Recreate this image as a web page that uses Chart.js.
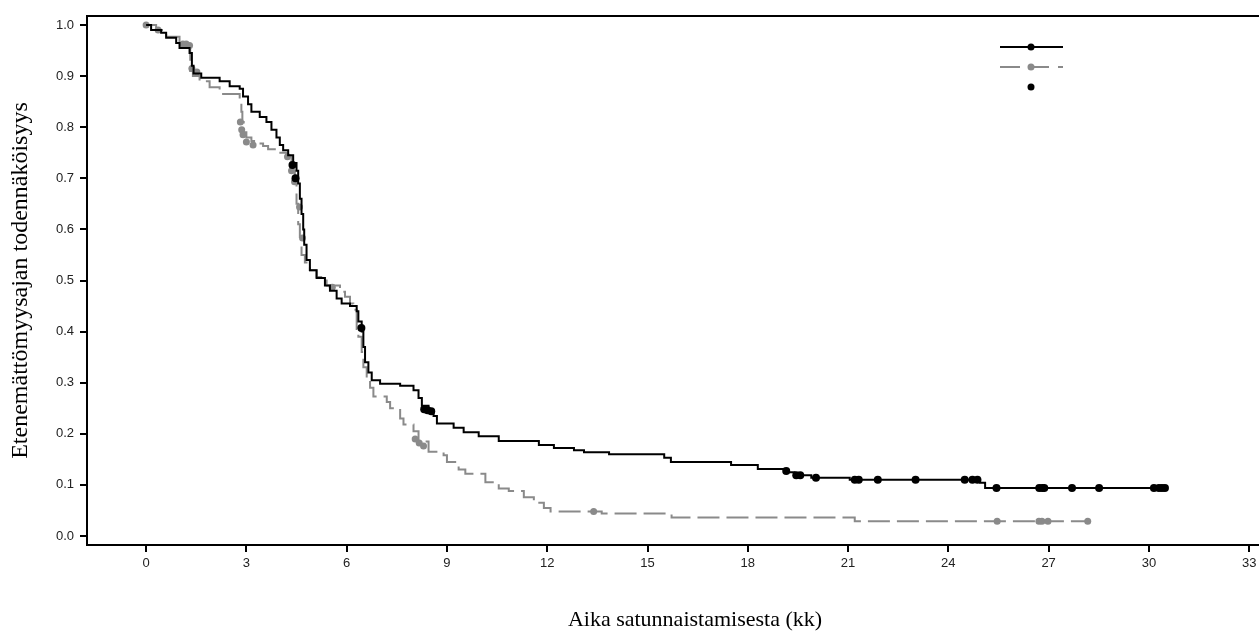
<!DOCTYPE html>
<html>
<head>
<meta charset="utf-8">
<script src="https://cdn.jsdelivr.net/npm/chart.js@4.4.1/dist/chart.umd.min.js"></script>
<style>
  html, body { margin: 0; padding: 0; background: #fff; overflow: hidden; }
  #wrap { width: 1307px; height: 633px; }
</style>
</head>
<body>
<div id="wrap"><canvas id="km"></canvas></div>
<script>
// --- Data ---
const xTicks = [0, 3, 6, 9, 12, 15, 18, 21, 24, 27, 30, 33];
const yTicks = [0, 0.1, 0.2, 0.3, 0.4, 0.5, 0.6, 0.7, 0.8, 0.9, 1.0];

// black arm: step times and survival after each step
const blackTime = [0, 0.15, 0.45, 0.6, 0.9, 1.0, 1.3, 1.37, 1.42, 1.65, 2.2, 2.5, 2.8, 2.9, 3.05, 3.15, 3.4, 3.6, 3.75, 3.9,
  4.0, 4.1, 4.25, 4.4, 4.5, 4.55, 4.6, 4.65, 4.7, 4.73, 4.8, 4.9, 5.1, 5.35, 5.5, 5.7, 5.85, 6.1, 6.3, 6.35,
  6.45, 6.5, 6.55, 6.65, 6.75, 7.0, 7.6, 8.0, 8.15, 8.25, 8.45, 8.6, 8.7, 9.2, 9.5, 9.95, 10.55, 11.75, 12.2, 12.8,
  13.1, 13.85, 15.5, 15.7, 17.5, 18.3, 19.1, 19.4, 19.9, 21.05, 24.95, 25.1, 30.5];
const blackSurv = [1.0, 0.99, 0.985, 0.975, 0.965, 0.955, 0.945, 0.92, 0.905, 0.897, 0.89, 0.88, 0.875, 0.86, 0.845, 0.83, 0.82, 0.81, 0.795, 0.78,
  0.765, 0.755, 0.745, 0.73, 0.715, 0.69, 0.66, 0.63, 0.6, 0.57, 0.54, 0.52, 0.505, 0.49, 0.48, 0.465, 0.455, 0.45, 0.44, 0.42,
  0.40, 0.37, 0.34, 0.32, 0.305, 0.298, 0.294, 0.285, 0.27, 0.255, 0.245, 0.235, 0.22, 0.212, 0.203, 0.195, 0.186, 0.178, 0.172, 0.168,
  0.164, 0.16, 0.153, 0.145, 0.139, 0.131, 0.125, 0.119, 0.114, 0.110, 0.104, 0.094, 0.094];

// gray arm
const grayTime = [0, 0.3, 0.6, 1.0, 1.25, 1.32, 1.4, 1.6, 1.9, 2.2, 2.8, 2.85, 2.88, 2.92, 3.0, 3.15, 3.3, 3.5, 3.65, 3.85,
  4.2, 4.35, 4.45, 4.5, 4.55, 4.6, 4.65, 4.75, 4.9, 5.1, 5.4, 5.8, 5.95, 6.1, 6.2, 6.3, 6.35, 6.45, 6.5, 6.6,
  6.7, 6.8, 7.2, 7.3, 7.6, 7.7, 8.0, 8.15, 8.45, 8.9, 9.0, 9.35, 9.55, 10.15, 10.55, 10.85, 11.3, 11.6, 11.9, 12.1,
  13.63, 15.72, 21.2, 28.18];
const graySurv = [1.0, 0.99, 0.977, 0.963, 0.958, 0.91, 0.9, 0.89, 0.878, 0.865, 0.856, 0.83, 0.81, 0.79, 0.78, 0.773, 0.768, 0.763, 0.757, 0.75,
  0.742, 0.715, 0.695, 0.65, 0.61, 0.585, 0.55, 0.535, 0.52, 0.507, 0.49, 0.478, 0.468, 0.455, 0.443, 0.405, 0.39, 0.36, 0.33, 0.31,
  0.29, 0.273, 0.262, 0.25, 0.23, 0.218, 0.205, 0.185, 0.165, 0.158, 0.145, 0.13, 0.122, 0.105, 0.093, 0.088, 0.076, 0.065, 0.055, 0.048,
  0.044, 0.036, 0.029, 0.029];

// censored observations
const blackCensT = [4.38, 4.47, 6.44, 8.32, 8.42, 8.53, 19.15, 19.45, 19.57, 20.04, 21.2, 21.32, 21.89, 23.02, 24.49, 24.72, 24.87,
  25.44, 26.72, 26.81, 26.87, 27.7, 28.51, 30.15, 30.3, 30.39, 30.48];
const blackCensS = [0.726, 0.70, 0.407, 0.248, 0.246, 0.244, 0.127, 0.119, 0.119, 0.114, 0.110, 0.110, 0.110, 0.110, 0.110, 0.110, 0.110,
  0.094, 0.094, 0.094, 0.094, 0.094, 0.094, 0.094, 0.094, 0.094, 0.094];
const grayCensT = [0, 0.36, 1.1, 1.2, 1.3, 1.37, 1.52, 2.82, 2.86, 2.9, 3.0, 3.2, 4.23, 4.35, 4.44, 4.59, 4.68, 5.57,
  8.05, 8.17, 8.3, 13.39, 25.46, 26.71, 26.8, 26.98, 28.17];
const grayCensS = [1.0, 0.99, 0.963, 0.963, 0.96, 0.915, 0.908, 0.81, 0.795, 0.785, 0.771, 0.765, 0.742, 0.715, 0.693, 0.644, 0.583, 0.487,
  0.19, 0.182, 0.176, 0.048, 0.029, 0.029, 0.029, 0.029, 0.029];

const BLACK = '#000000';
const GRAY = '#8a8a8a';

const toPts = (xs, ys) => xs.map((x, i) => ({ x: x, y: ys[i] }));

// legend without text: line + dot symbols, drawn in the top-right corner
const legendSymbols = {
    id: 'legendSymbols',
    afterDraw(chart) {
        const { ctx, chartArea } = chart;
        const x0 = chartArea.left + 913, x1 = x0 + 63, xm = x0 + 31;
        const rows = [
            { y: chartArea.top + 31, color: BLACK, dash: [], line: true },
            { y: chartArea.top + 51, color: GRAY, dash: [20, 9], line: true },
            { y: chartArea.top + 71, color: BLACK, dash: [], line: false }
        ];
        ctx.save();
        rows.forEach(r => {
            if (r.line) {
                ctx.strokeStyle = r.color;
                ctx.lineWidth = 2;
                ctx.setLineDash(r.dash);
                ctx.beginPath();
                ctx.moveTo(x0, r.y);
                ctx.lineTo(x1, r.y);
                ctx.stroke();
            }
            ctx.setLineDash([]);
            ctx.fillStyle = r.color;
            ctx.beginPath();
            ctx.arc(xm, r.y, 3.5, 0, Math.PI * 2);
            ctx.fill();
        });
        ctx.restore();
    }
};

const tickFont = { family: '"Liberation Sans", Arial, sans-serif', size: 13 };
const serif = '"Liberation Serif", "Times New Roman", serif';

new Chart(document.getElementById('km').getContext('2d'), {
    type: 'scatter',
    data: {
        datasets: [
            {
                data: toPts(blackCensT, blackCensS),
                showLine: false,
                pointRadius: 4,
                pointBackgroundColor: BLACK,
                pointBorderWidth: 0
            },
            {
                data: toPts(blackTime, blackSurv),
                showLine: true,
                stepped: true,
                borderColor: BLACK,
                borderWidth: 2,
                pointRadius: 0,
                fill: false
            },
            {
                data: toPts(grayCensT, grayCensS),
                showLine: false,
                pointRadius: 3.5,
                pointBackgroundColor: GRAY,
                pointBorderWidth: 0
            },
            {
                data: toPts(grayTime, graySurv),
                showLine: true,
                stepped: true,
                borderColor: GRAY,
                borderWidth: 2,
                borderDash: [22, 7],
                pointRadius: 0,
                fill: false
            }
        ]
    },
    options: {
        responsive: true,
        maintainAspectRatio: false,
        animation: false,
        layout: { padding: 0 },
        scales: {
            x: {
                type: 'linear',
                position: 'bottom',
                min: -1.768,
                max: 34.61,
                afterFit: s => { s.height = 88; },
                afterBuildTicks: s => { s.ticks = xTicks.map(v => ({ value: v })); },
                ticks: { font: tickFont, color: '#222', padding: 4, maxRotation: 0 },
                grid: { drawOnChartArea: false, tickLength: 7, color: BLACK, lineWidth: 2 },
                border: { color: BLACK, width: 2 },
                title: {
                    display: true,
                    text: 'Aika satunnaistamisesta (kk)',
                    font: { family: serif, size: 22 },
                    color: '#000',
                    padding: { top: 0, bottom: 0 }
                }
            },
            xTop: {
                type: 'linear',
                position: 'top',
                min: -1.768,
                max: 34.61,
                afterFit: s => { s.height = 16; },
                ticks: { display: false },
                grid: { display: false },
                border: { color: BLACK, width: 2 }
            },
            y: {
                type: 'linear',
                min: -0.0176,
                max: 1.0176,
                afterFit: s => { s.width = 87; },
                afterBuildTicks: s => { s.ticks = yTicks.map(v => ({ value: v })); },
                ticks: { font: tickFont, color: '#222', padding: 6, callback: v => v.toFixed(1) },
                grid: { drawOnChartArea: false, tickLength: 7, color: BLACK, lineWidth: 2 },
                border: { color: BLACK, width: 2 },
                title: {
                    display: true,
                    text: 'Etenemättömyysajan todennäköisyys',
                    font: { family: serif, size: 24 },
                    color: '#000',
                    padding: { top: 6, bottom: 0 }
                }
            }
        },
        plugins: {
            legend: { display: false },
            tooltip: { enabled: false }
        }
    },
    plugins: [legendSymbols]
});
</script>
</body>
</html>
